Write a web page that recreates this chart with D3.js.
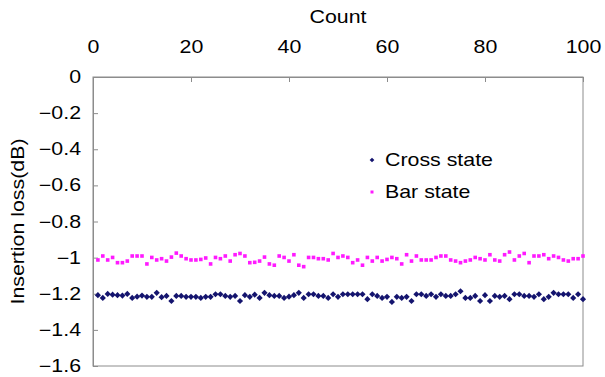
<!DOCTYPE html>
<html>
<head>
<meta charset="utf-8">
<script src="https://cdn.jsdelivr.net/npm/d3@7"></script>
<style>
  html, body { margin: 0; padding: 0; background: #fff; }
  svg { display: block; font-family: "Liberation Sans", Arial, sans-serif; }
</style>
</head>
<body>
<svg id="chart" width="605" height="377"></svg>
<script>
// Measurement index (1..100)
const counts = d3.range(1, 101);

// Insertion loss (dB) per measurement, cross state
const crossState = [
  -1.208, -1.223, -1.201, -1.205, -1.208, -1.210, -1.201, -1.223, -1.216, -1.210,
  -1.217, -1.217, -1.195, -1.219, -1.212, -1.240, -1.212, -1.212, -1.217, -1.217,
  -1.217, -1.223, -1.217, -1.217, -1.203, -1.203, -1.212, -1.217, -1.212, -1.240,
  -1.208, -1.217, -1.205, -1.223, -1.195, -1.208, -1.212, -1.212, -1.223, -1.216,
  -1.208, -1.195, -1.223, -1.203, -1.203, -1.212, -1.212, -1.223, -1.203, -1.217,
  -1.203, -1.203, -1.203, -1.203, -1.203, -1.230, -1.203, -1.212, -1.223, -1.217,
  -1.245, -1.217, -1.223, -1.217, -1.240, -1.203, -1.203, -1.212, -1.203, -1.217,
  -1.203, -1.212, -1.212, -1.203, -1.186, -1.223, -1.223, -1.212, -1.240, -1.208,
  -1.240, -1.212, -1.217, -1.212, -1.230, -1.203, -1.203, -1.212, -1.212, -1.217,
  -1.203, -1.230, -1.217, -1.195, -1.203, -1.203, -1.203, -1.223, -1.203, -1.230
];

// Insertion loss (dB) per measurement, bar state
const barState = [
  -1.013, -0.991, -1.013, -0.999, -1.028, -1.028, -1.019, -0.991, -0.991, -0.991,
  -1.035, -0.999, -1.013, -1.006, -1.019, -0.997, -0.975, -0.991, -1.006, -1.013,
  -1.013, -1.010, -1.002, -1.035, -0.999, -1.006, -0.991, -1.019, -0.984, -0.977,
  -0.991, -1.028, -1.026, -1.019, -0.997, -1.035, -1.042, -0.991, -0.999, -1.019,
  -0.984, -1.042, -1.050, -0.999, -0.999, -1.006, -1.006, -1.013, -0.977, -0.999,
  -0.991, -0.999, -1.028, -1.013, -1.042, -0.999, -1.019, -0.999, -1.019, -1.010,
  -0.999, -1.006, -1.035, -0.984, -1.019, -0.991, -1.013, -1.013, -1.013, -0.999,
  -0.991, -0.991, -1.013, -1.019, -1.028, -1.019, -1.013, -0.999, -1.006, -1.013,
  -0.984, -1.013, -1.019, -0.984, -0.969, -1.013, -0.991, -0.977, -1.028, -0.991,
  -0.991, -0.984, -1.006, -0.991, -0.999, -1.013, -1.019, -1.006, -1.006, -0.991
];

const xTicks = [0, 20, 40, 60, 80, 100];
const yTicks = [0, -0.2, -0.4, -0.6, -0.8, -1, -1.2, -1.4, -1.6];
const seriesNames = ["Cross state", "Bar state"];

const svg = d3.select("#chart");
const plot = { left: 93, right: 583, top: 77, bottom: 366 };
const axisColor = "#8c8c8c";
const fontSize = 17.5;
const widen = 1.22;   // horizontal stretch applied to all text

// Stretch text horizontally about its own anchor point
function stretch(sel) {
  sel.each(function () {
    const t = d3.select(this);
    const ax = +(t.attr("x") || 0);
    t.attr("transform", `translate(${ax * (1 - widen)},0) scale(${widen},1)`);
  });
}

const x = d3.scaleLinear().domain([0, 100]).range([plot.left, plot.right]);
const y = d3.scaleLinear().domain([0, -1.6]).range([plot.top, plot.bottom]);

// Plot frame
svg.append("rect")
  .attr("x", plot.left).attr("y", plot.top)
  .attr("width", plot.right - plot.left).attr("height", plot.bottom - plot.top)
  .attr("fill", "none").attr("stroke", axisColor).attr("stroke-width", 1);

// Top axis (Count)
const xAxis = d3.axisTop(x).tickValues(xTicks).tickSizeInner(-5).tickSizeOuter(0).tickPadding(24)
  .tickFormat(d3.format("d"));
const gx = svg.append("g").attr("transform", `translate(0,${plot.top})`).call(xAxis);
gx.select(".domain").attr("stroke", axisColor);
gx.selectAll(".tick line").attr("stroke", axisColor);
gx.selectAll(".tick text").attr("fill", "#000").attr("font-size", fontSize)
  .attr("font-family", "Liberation Sans, Arial, sans-serif").call(stretch);

// Left axis (Insertion loss)
const yAxis = d3.axisLeft(y).tickValues(yTicks).tickSizeInner(-5).tickSizeOuter(0).tickPadding(12)
  .tickFormat(d => d === 0 ? "0" : d3.format("")(d));
const gy = svg.append("g").attr("transform", `translate(${plot.left},0)`).call(yAxis);
gy.select(".domain").attr("stroke", axisColor);
gy.selectAll(".tick line").attr("stroke", axisColor);
gy.selectAll(".tick text").attr("fill", "#000").attr("font-size", fontSize)
  .attr("font-family", "Liberation Sans, Arial, sans-serif").call(stretch);

// Axis titles
svg.append("g").attr("transform", `translate(${(plot.left + plot.right) / 2},23)`)
  .append("text")
  .attr("text-anchor", "middle").attr("font-size", fontSize)
  .attr("transform", `scale(${widen},1)`).text("Count");
svg.append("text")
  .attr("transform", `translate(24,${(plot.top + plot.bottom) / 2}) rotate(-90) scale(${widen},1)`)
  .attr("text-anchor", "middle").attr("font-size", fontSize).text("Insertion loss(dB)");

// Data markers: rotated squares for cross state, small squares for bar state
const diamond = d3.symbol().type(d3.symbolSquare).size(19);
const square = d3.symbol().type(d3.symbolSquare).size(13);

svg.append("g").selectAll("path")
  .data(counts.map((c, i) => [c, crossState[i]]))
  .join("path")
  .attr("d", diamond)
  .attr("transform", d => `translate(${x(d[0])},${y(d[1])}) rotate(45)`)
  .attr("fill", "#14146e");

svg.append("g").selectAll("path")
  .data(counts.map((c, i) => [c, barState[i]]))
  .join("path")
  .attr("d", square)
  .attr("transform", d => `translate(${x(d[0])},${y(d[1])})`)
  .attr("fill", "#ff1aff");

// Legend
const legend = svg.append("g");
const legendItems = [
  { name: seriesNames[0], sym: d3.symbol().type(d3.symbolSquare).size(11), rot: 45, color: "#14146e", ly: 160 },
  { name: seriesNames[1], sym: d3.symbol().type(d3.symbolSquare).size(9), rot: 0, color: "#ff1aff", ly: 192 }
];
legendItems.forEach(it => {
  legend.append("path").attr("d", it.sym)
    .attr("transform", `translate(372,${it.ly}) rotate(${it.rot})`).attr("fill", it.color);
  legend.append("text").attr("x", 385).attr("y", it.ly + 6.5)
    .attr("font-size", fontSize).attr("fill", "#000").text(it.name)
    .call(stretch);
});
</script>
</body>
</html>
